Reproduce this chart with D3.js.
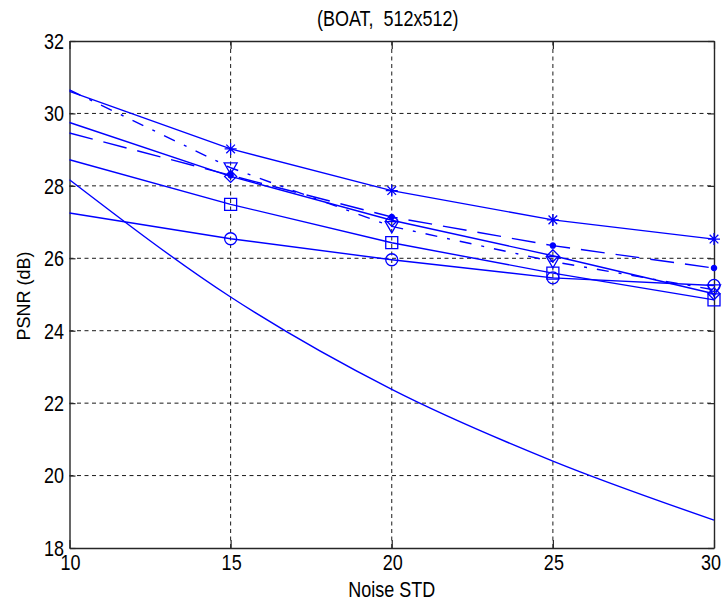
<!DOCTYPE html>
<html>
<head>
<meta charset="utf-8">
<script src="https://cdn.jsdelivr.net/npm/d3@7"></script>
<style>
  html, body { margin: 0; padding: 0; background: #ffffff; }
  svg { display: block; }
  text { font-family: "Liberation Sans", Arial, sans-serif; fill: #000; }
</style>
</head>
<body>
<svg id="chart" width="723" height="601"></svg>
<script>
// Noise standard deviations on the x axis
const noiseStd = [10, 15, 20, 25, 30];
const xTicks = [10, 15, 20, 25, 30];
const yTicks = [18, 20, 22, 24, 26, 28, 30, 32];

// PSNR (dB) of each curve at every noise level
const noisyPsnr      = [28.17, 24.93, 22.38, 20.40, 18.77];
const psnrStar       = [30.61, 29.02, 27.87, 27.06, 26.53];
const psnrDot        = [29.46, 28.29, 27.14, 26.35, 25.73];
const psnrTriangle   = [30.65, 28.50, 26.88, 25.91, 25.13];
const psnrDiamond    = [29.75, 28.26, 27.05, 26.07, 25.02];
const psnrSquare     = [28.72, 27.49, 26.43, 25.59, 24.85];
const psnrCircle     = [27.25, 26.54, 25.96, 25.46, 25.25];

const seriesList = [
  { values: psnrStar,     dash: null,          marker: "star" },
  { values: psnrDot,      dash: "24,11",       marker: "dot" },
  { values: psnrTriangle, dash: "12,10,3,10",  marker: "triangle" },
  { values: psnrDiamond,  dash: null,          marker: "diamond" },
  { values: psnrSquare,   dash: null,          marker: "square" },
  { values: psnrCircle,   dash: null,          marker: "circle" }
];

const svg = d3.select("#chart");
const x = d3.scaleLinear().domain([10, 30]).range([69.5, 714]);
const y = d3.scaleLinear().domain([18, 32]).range([548, 41]);
const blue = "#0000ff";
const textStretch = 1.22;

// Dashed grid
const grid = svg.append("g");
grid.selectAll("line.gx").data(xTicks.slice(1, -1)).enter().append("line")
  .attr("x1", d => x(d)).attr("x2", d => x(d))
  .attr("y1", y(18)).attr("y2", y(32))
  .attr("stroke", "#1a1a1a").attr("stroke-width", 1).attr("stroke-dasharray", "4,3.5");
grid.selectAll("line.gy").data(yTicks.slice(1, -1)).enter().append("line")
  .attr("x1", x(10)).attr("x2", x(30))
  .attr("y1", d => y(d)).attr("y2", d => y(d))
  .attr("stroke", "#1a1a1a").attr("stroke-width", 1).attr("stroke-dasharray", "4,3.5");

// Axes with inward ticks on all sides
const axisBottom = d3.axisBottom(x).tickValues(xTicks).tickSizeInner(-8).tickSizeOuter(0).tickFormat("");
const axisTop = d3.axisTop(x).tickValues(xTicks).tickSizeInner(-8).tickSizeOuter(0).tickFormat("");
const axisLeft = d3.axisLeft(y).tickValues(yTicks).tickSizeInner(-6).tickSizeOuter(0).tickFormat("");
const axisRight = d3.axisRight(y).tickValues(yTicks).tickSizeInner(-6).tickSizeOuter(0).tickFormat("");
function styleAxis(g) {
  g.selectAll("path").attr("stroke", "#262626").attr("stroke-width", 1.4);
  g.selectAll("line").attr("stroke", "#262626").attr("stroke-width", 1.2);
}
svg.append("g").attr("transform", `translate(0,${y(18)})`).call(axisBottom).call(styleAxis);
svg.append("g").attr("transform", `translate(0,${y(32)})`).call(axisTop).call(styleAxis);
svg.append("g").attr("transform", `translate(${x(10)},0)`).call(axisLeft).call(styleAxis);
svg.append("g").attr("transform", `translate(${x(30)},0)`).call(axisRight).call(styleAxis);

// Tick labels (the last x label is kept inside the page edge)
svg.append("g").selectAll("text").data(xTicks).enter().append("text")
  .attr("transform", d => `translate(${Math.min(x(d) + 1, 711)},${570}) scale(1,${textStretch})`)
  .attr("text-anchor", "middle").attr("font-size", 18).text(d => d);
svg.append("g").selectAll("text").data(yTicks).enter().append("text")
  .attr("transform", d => `translate(64,${y(d) + 7.8}) scale(1,${textStretch})`)
  .attr("text-anchor", "end").attr("font-size", 18).text(d => d);

// Titles
svg.append("text")
  .attr("transform", `translate(${(x(10) + x(30)) / 2 - 4},26) scale(1,${textStretch})`)
  .attr("text-anchor", "middle").attr("font-size", 18).attr("xml:space", "preserve")
  .text("(BOAT,  512x512)");
svg.append("text")
  .attr("transform", `translate(${(x(10) + x(30)) / 2},597) scale(1,${textStretch})`)
  .attr("text-anchor", "middle").attr("font-size", 18).text("Noise STD");
svg.append("text")
  .attr("transform", "translate(30,296) rotate(-90)")
  .attr("text-anchor", "middle").attr("font-size", 18).text("PSNR (dB)");

// Noisy-image reference curve
const smoothLine = d3.line().x((d, i) => x(noiseStd[i])).y(d => y(d)).curve(d3.curveMonotoneX);
svg.append("path").datum(noisyPsnr).attr("d", smoothLine)
  .attr("fill", "none").attr("stroke", blue).attr("stroke-width", 1.4);

// Method curves
const line = d3.line().x((d, i) => x(noiseStd[i])).y(d => y(d));
seriesList.forEach(s => {
  svg.append("path").datum(s.values).attr("d", line)
    .attr("fill", "none").attr("stroke", blue).attr("stroke-width", 1.4)
    .attr("stroke-dasharray", s.dash);
});

// Marker shapes centred on the origin
const markerPath = {
  star: r => { const k = r * 0.72; return `M${-r},0L${r},0M0,${-r}L0,${r}M${-k},${-k}L${k},${k}M${-k},${k}L${k},${-k}`; },
  triangle: r => `M${-r},${-r * 0.75}L${r},${-r * 0.75}L0,${r}Z`,
  diamond: r => `M0,${-r}L${r},0L0,${r}L${-r},0Z`,
  square: r => `M${-r},${-r}H${r}V${r}H${-r}Z`,
  circle: r => `M${r},0A${r},${r} 0 1,1 ${-r},0A${r},${r} 0 1,1 ${r},0Z`,
  dot: r => `M${r},0A${r},${r} 0 1,1 ${-r},0A${r},${r} 0 1,1 ${r},0Z`
};
const markerSize = { star: 6, triangle: 6.5, diamond: 6, square: 6, circle: 6, dot: 2.6 };

seriesList.forEach(s => {
  const pts = s.values.map((v, i) => ({ sx: noiseStd[i], v })).filter(p => p.sx > 10);
  svg.append("g").selectAll("path").data(pts).enter().append("path")
    .attr("transform", p => `translate(${x(p.sx)},${y(p.v)})`)
    .attr("d", markerPath[s.marker](markerSize[s.marker]))
    .attr("fill", s.marker === "dot" ? blue : "none")
    .attr("stroke", blue).attr("stroke-width", 1.3);
});
</script>
</body>
</html>
